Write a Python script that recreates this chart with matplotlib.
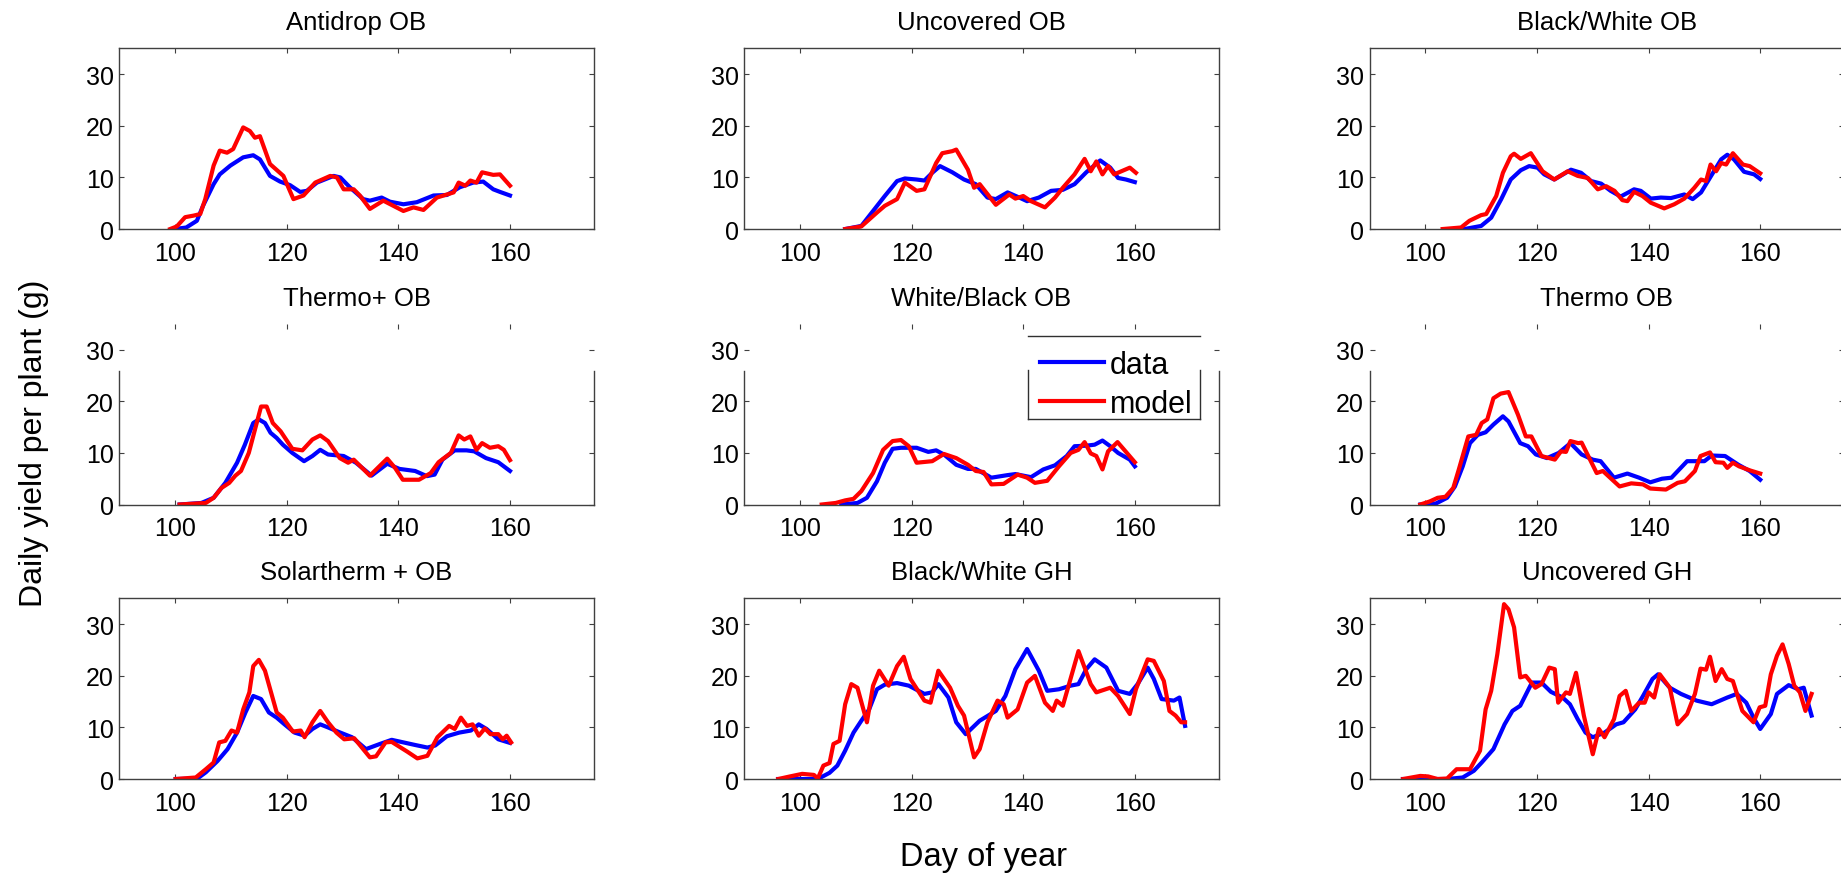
import matplotlib
matplotlib.use("Agg")
import matplotlib.pyplot as plt
from matplotlib.lines import Line2D

plt.rcParams['font.family'] = ['Liberation Sans', 'DejaVu Sans']

# ---- data (day of year, g per plant) ----
antidrop_data_day = [100, 102, 103.9, 105, 106.9, 108, 109.9, 112.2, 114, 115.2, 117, 118.8, 120.6, 122.4, 123.6, 125.4, 128.4, 129.6, 131.3, 133.7, 134.9, 137, 138.5, 140.9, 143.3, 146.3, 148.7, 151, 153.4, 155.2, 157, 158.2, 160]
antidrop_data_val = [0, 0.3, 1.6, 4.5, 8.7, 10.6, 12.3, 13.9, 14.3, 13.5, 10.3, 9.2, 8.5, 7.2, 7.4, 9.0, 10.3, 10.0, 8.1, 5.8, 5.5, 6.1, 5.3, 4.8, 5.2, 6.5, 6.6, 8.1, 9.0, 9.2, 7.7, 7.2, 6.5]
antidrop_model_day = [99.1, 100.3, 101.8, 103.3, 104.5, 105.4, 106.9, 108, 109.3, 110.4, 112.2, 113.4, 114.3, 115.2, 117, 119.4, 121.2, 123, 125.1, 127.8, 129, 130.2, 132, 133.1, 134.9, 137.3, 140.9, 142.7, 144.5, 146.9, 149.9, 150.8, 152, 152.9, 154, 155, 157, 158.2, 160]
antidrop_model_val = [0, 0.5, 2.3, 2.6, 2.9, 5.8, 12.3, 15.2, 14.8, 15.5, 19.7, 19.0, 17.7, 18.0, 12.6, 10.3, 5.8, 6.5, 9.0, 10.3, 10.0, 7.7, 7.7, 6.5, 3.9, 5.5, 3.5, 4.2, 3.7, 6.1, 7.1, 9.0, 8.4, 9.4, 9.0, 11.0, 10.5, 10.6, 8.4]

uncov_ob_data_day = [108.1, 111, 113.1, 115.2, 117.4, 118.8, 120.9, 122.3, 123.7, 125.1, 127.3, 129.4, 131.5, 133.6, 135.1, 137.2, 139.3, 140.7, 142.8, 145, 147.1, 149.2, 151.3, 153.8, 155.6, 157, 158.4, 160]
uncov_ob_data_val = [0, 0.6, 3.5, 6.4, 9.3, 9.8, 9.6, 9.4, 10.9, 12.2, 11.0, 9.6, 8.7, 6.1, 5.8, 7.1, 6.1, 5.4, 6.1, 7.4, 7.6, 8.7, 11.0, 13.3, 11.9, 9.9, 9.6, 9.1]
uncov_ob_model_day = [108.1, 111, 113.8, 115.2, 117.4, 118.8, 120.9, 122.3, 124.4, 125.5, 127.3, 128, 130.1, 131.2, 132.2, 135.1, 137.5, 138.6, 140, 141.4, 143.9, 145.7, 147.1, 149.2, 151, 152.1, 153.1, 154.2, 155.2, 156.3, 159.1, 160.2]
uncov_ob_model_val = [0, 0.5, 3.2, 4.5, 5.8, 9.0, 7.4, 7.7, 12.8, 14.7, 15.1, 15.4, 11.5, 8.0, 8.7, 4.7, 6.7, 5.9, 6.4, 5.4, 4.2, 6.1, 8.0, 10.6, 13.6, 11.2, 13.1, 10.6, 12.2, 10.6, 11.9, 10.9]

bw_ob_data_day = [107, 110, 111.8, 113.6, 115.3, 117.1, 118.6, 120.1, 121.3, 123.1, 126.1, 127.9, 129.7, 131.5, 133.2, 135, 137.4, 138.6, 140.4, 142.2, 144, 146.4, 147.9, 149.4, 151.2, 153, 154.1, 155.3, 157.1, 158.9, 160]
bw_ob_data_val = [0, 0.6, 2.2, 5.8, 9.6, 11.4, 12.2, 11.9, 10.6, 9.6, 11.5, 10.9, 9.3, 8.8, 7.4, 6.3, 7.7, 7.4, 5.9, 6.1, 6.0, 6.7, 5.8, 7.1, 10.3, 13.5, 14.4, 13.5, 11.1, 10.6, 9.7]
bw_ob_model_day = [103.1, 106.4, 107.9, 110, 110.9, 112.7, 113.9, 115.3, 115.9, 117.1, 118.9, 121, 123.1, 125.5, 127.3, 129.1, 130.9, 132.4, 133.9, 135.3, 136.2, 137.4, 138.9, 140.4, 142.8, 144.6, 146.4, 148.2, 149.4, 150.3, 151.1, 152.1, 153, 153.9, 155.1, 156.9, 158.1, 160]
bw_ob_model_val = [0, 0.3, 1.6, 2.7, 2.9, 6.4, 10.9, 14.1, 14.6, 13.6, 14.7, 11.2, 9.6, 11.2, 10.3, 9.9, 7.7, 8.3, 7.4, 5.6, 5.4, 7.2, 6.4, 5.1, 4.0, 4.8, 5.9, 8.0, 9.6, 9.3, 12.5, 11.2, 12.8, 12.5, 14.7, 12.5, 12.2, 10.8]

thermoplus_data_day = [100.8, 104.7, 106.9, 109, 111.1, 112.5, 114, 115, 116.1, 117.1, 118.2, 119.3, 121, 123.1, 124.6, 126, 127.4, 130.2, 132.4, 135.2, 138, 140.2, 143, 145.1, 146.5, 147.9, 150.1, 152.2, 153.6, 155.7, 157.9, 160]
thermoplus_data_val = [0, 0.3, 1.3, 4.2, 8.1, 11.6, 15.8, 16.5, 15.8, 13.9, 12.9, 11.6, 10.0, 8.4, 9.4, 10.6, 9.7, 9.4, 8.1, 5.6, 7.9, 6.9, 6.5, 5.5, 5.8, 8.7, 10.5, 10.5, 10.3, 9.0, 8.2, 6.5]
thermoplus_model_day = [100.8, 105.5, 106.9, 108.3, 109.7, 110.8, 111.8, 113.2, 114.3, 115.4, 116.4, 117.5, 118.9, 121, 122.8, 124.6, 126, 127.4, 129.5, 131, 132, 134.9, 138, 139.4, 140.8, 143.7, 145.8, 147.2, 149.4, 150.8, 151.8, 152.9, 154, 155, 156.4, 157.9, 158.9, 160]
thermoplus_model_val = [0, 0.3, 1.3, 3.2, 4.2, 5.6, 6.5, 10.0, 14.5, 19.0, 19.0, 15.8, 14.2, 10.8, 10.5, 12.6, 13.4, 12.3, 9.0, 8.1, 8.7, 5.6, 8.9, 7.1, 4.8, 4.8, 6.1, 8.2, 10.0, 13.4, 12.6, 13.2, 10.6, 11.9, 11.0, 11.3, 10.6, 8.6]

wb_ob_data_day = [107.4, 110.3, 112, 113.8, 115.2, 116.6, 118.1, 120.9, 123, 124.4, 125.8, 128, 130.1, 131.5, 134.3, 137.2, 138.6, 141.4, 143.6, 145.7, 147.8, 149.2, 151.3, 152.8, 154.2, 155.6, 157, 159.1, 160]
wb_ob_data_val = [0, 0.3, 1.3, 4.5, 8.1, 10.8, 11.0, 11.0, 10.2, 10.5, 9.7, 7.7, 6.9, 6.9, 5.2, 5.7, 5.9, 5.3, 6.8, 7.6, 9.4, 11.3, 11.4, 11.6, 12.4, 11.3, 10.0, 8.7, 7.4]
wb_ob_model_day = [103.9, 106.4, 108.1, 109.6, 111, 113.1, 114.9, 116.6, 118.1, 119.5, 120.9, 123.7, 125.8, 128, 130.1, 131.5, 132.9, 134.3, 136.5, 139, 140.7, 142.1, 144.3, 146.4, 148.5, 149.9, 151, 152.1, 153.1, 154.2, 155.2, 156.9, 158.1, 160]
wb_ob_model_val = [0, 0.3, 0.8, 1.1, 2.6, 6.1, 10.6, 12.3, 12.5, 11.3, 8.1, 8.4, 9.8, 9.0, 7.7, 6.5, 6.3, 3.9, 4.0, 5.8, 5.2, 4.2, 4.6, 7.4, 10.0, 10.6, 12.1, 9.9, 9.4, 6.8, 10.3, 12.1, 10.6, 8.2]

thermo_data_day = [99.1, 101.9, 103.9, 105.3, 106.7, 108, 109.4, 110.8, 112.2, 113.9, 114.9, 117, 118.4, 119.8, 121.8, 123.9, 126, 128, 130, 131.4, 133.8, 136.2, 138.3, 140.3, 142.4, 144.1, 146.9, 150, 151.3, 153.7, 156.1, 158.1, 160]
thermo_data_val = [0, 0.2, 1.3, 3.5, 7.4, 11.9, 13.5, 14.0, 15.5, 17.1, 16.1, 11.9, 11.3, 9.7, 9.0, 10.0, 11.9, 9.7, 8.7, 8.4, 5.2, 6.0, 5.2, 4.3, 5.0, 5.2, 8.4, 8.4, 9.5, 9.4, 7.7, 6.5, 4.8]
thermo_model_day = [99.1, 100.8, 102.2, 103.6, 105, 106, 107.7, 109.1, 110.1, 111.1, 112.2, 113.5, 114.9, 116.6, 118, 119, 120.8, 123.2, 124.3, 125.2, 126, 127.4, 128, 130.7, 131.8, 134.8, 136.9, 139, 140.3, 143.1, 145.2, 146.5, 148.3, 149.3, 151, 152, 153.4, 154.1, 155.1, 156.2, 158.2, 160]
thermo_model_val = [0, 0.6, 1.3, 1.5, 3.2, 6.8, 13.2, 13.5, 15.8, 16.5, 20.6, 21.5, 21.8, 17.4, 13.2, 13.2, 9.4, 8.7, 10.3, 10.2, 12.3, 11.9, 12.0, 6.1, 6.5, 3.5, 4.1, 3.9, 3.1, 2.9, 4.2, 4.5, 6.5, 9.4, 10.1, 8.2, 8.1, 7.1, 8.1, 7.4, 6.6, 6.0]

solar_data_day = [100.1, 104, 105.5, 107.6, 109.4, 111.1, 112.6, 114, 115.4, 116.8, 118.2, 119.6, 121.4, 123.2, 124.6, 126, 127.4, 129.6, 131.7, 134.2, 136.7, 138.8, 140.9, 143, 145.2, 146.6, 148.7, 150.9, 153, 154.4, 155.8, 157.9, 160]
solar_data_val = [0, 0.1, 1.3, 3.5, 5.8, 9.0, 12.9, 16.1, 15.5, 12.9, 11.9, 10.6, 9.0, 8.4, 9.7, 10.6, 10.0, 9.0, 8.1, 5.8, 6.8, 7.6, 7.1, 6.6, 6.1, 6.5, 8.3, 9.0, 9.4, 10.6, 9.7, 7.7, 7.0]
solar_model_day = [100.1, 103.7, 105.5, 106.9, 107.9, 109, 110.1, 111.1, 112.2, 113.3, 114, 115, 116.1, 118.2, 119.3, 121.1, 122.5, 123.2, 124.6, 126, 127.4, 128.9, 130.3, 132.1, 134.9, 136, 137.7, 138.8, 141.6, 143.4, 145.2, 147, 149.1, 150.1, 151.2, 152.3, 153.3, 154.4, 155.5, 156.5, 157.9, 158.7, 159.4, 160.2]
solar_model_val = [0, 0.3, 1.9, 3.2, 7.1, 7.4, 9.4, 9.0, 13.5, 16.8, 21.9, 23.1, 21.0, 12.9, 11.9, 9.2, 9.4, 8.1, 11.0, 13.2, 11.0, 9.0, 7.7, 7.9, 4.2, 4.4, 7.1, 7.2, 5.3, 4.0, 4.5, 8.1, 10.3, 9.7, 11.9, 10.3, 10.6, 8.4, 9.8, 8.7, 8.7, 7.7, 8.4, 7.1]

bw_gh_data_day = [96.1, 103.2, 105.3, 106.7, 108.1, 109.6, 111, 112.4, 113.8, 115.2, 117.4, 119.5, 122.3, 123.7, 124.8, 126.6, 128, 129.7, 132.2, 135.1, 136.8, 138.6, 140.7, 142.8, 144.3, 146.4, 148.5, 149.9, 151.3, 152.8, 154.9, 157, 159.1, 160.5, 162.3, 163.4, 164.8, 167, 168, 169]
bw_gh_data_val = [0, 0, 1.2, 2.6, 5.5, 9.0, 11.3, 13.5, 17.4, 18.3, 18.6, 18.1, 16.5, 16.8, 18.4, 15.8, 11.0, 8.7, 11.3, 13.2, 16.1, 21.3, 25.2, 21.0, 17.1, 17.4, 18.1, 18.4, 21.3, 23.2, 21.6, 17.1, 16.5, 18.4, 21.6, 19.4, 15.5, 15.2, 15.8, 10.3]
bw_gh_model_day = [96.1, 98.2, 100.4, 102.5, 103.2, 104.2, 105.3, 106, 107.1, 108.1, 109.2, 110.3, 112, 113.1, 114.2, 115.9, 117.4, 118.6, 119.8, 122.3, 123.4, 124.8, 126.9, 128.3, 129.4, 131.2, 132.2, 133.6, 135.4, 136.5, 137.2, 139, 140.7, 142.1, 143.9, 145.3, 146, 147.1, 149.9, 152.1, 153.1, 155.6, 157, 159.1, 160.2, 162.3, 163.4, 165.2, 166.2, 167.3, 168.3, 169]
bw_gh_model_val = [0, 0.5, 1.0, 0.8, 0.1, 2.6, 3.1, 6.8, 7.4, 14.5, 18.4, 17.7, 11.0, 18.1, 21.0, 18.1, 21.9, 23.7, 19.4, 15.2, 14.8, 21.0, 17.7, 14.2, 12.3, 4.2, 5.8, 11.0, 15.2, 14.5, 11.9, 13.5, 18.7, 20.0, 14.8, 13.2, 15.2, 14.2, 24.8, 18.4, 16.8, 17.7, 16.1, 12.6, 17.4, 23.2, 22.9, 19.0, 13.2, 12.3, 11.0, 11.0]

uncov_gh_data_day = [96, 103.9, 106.7, 108.7, 110.1, 112.2, 114.2, 115.6, 117, 119.1, 120.8, 122.5, 124.6, 125.9, 127.3, 128.7, 130, 132.1, 134.2, 135.5, 137.6, 139, 140.7, 141.7, 143.8, 145.8, 148.6, 151.3, 154.1, 155.8, 157.5, 158.8, 160, 161.9, 163, 165.1, 166.8, 167.8, 169.2]
uncov_gh_data_val = [0, 0, 0.3, 1.6, 3.2, 5.8, 10.6, 13.2, 14.2, 18.7, 18.7, 16.9, 15.8, 14.5, 11.6, 9.0, 8.1, 9.0, 10.6, 11.0, 13.5, 16.1, 19.4, 20.3, 17.7, 16.5, 15.2, 14.5, 15.8, 16.5, 14.8, 11.9, 9.7, 12.6, 16.5, 18.2, 17.4, 17.7, 12.3]
uncov_gh_model_day = [96, 99.1, 100.5, 102.2, 103.9, 105.6, 108, 109.8, 110.8, 111.8, 112.9, 114.1, 114.9, 115.9, 117, 118, 119.7, 120.8, 122.2, 123.2, 123.8, 125.2, 125.9, 127, 128.4, 130, 131.1, 132.1, 133.8, 134.8, 135.9, 136.9, 138.3, 139.3, 140, 141, 142, 143.8, 145.2, 146.9, 148.3, 149.3, 150.3, 151, 152, 153.1, 154.1, 155.1, 156.8, 158.8, 159.9, 160.9, 161.9, 163, 164, 165.1, 166.1, 167.1, 168.1, 169.2]
uncov_gh_model_val = [0, 0.6, 0.5, 0, 0.1, 1.9, 1.9, 5.5, 13.5, 17.1, 24.2, 33.9, 32.9, 29.4, 19.7, 20.0, 17.7, 18.4, 21.6, 21.3, 14.8, 16.8, 16.5, 20.6, 12.3, 4.8, 9.7, 8.1, 11.6, 16.1, 17.1, 13.2, 14.8, 14.8, 16.8, 15.8, 20.3, 17.7, 10.6, 12.6, 16.5, 21.4, 21.2, 23.7, 19.0, 21.3, 19.4, 19.0, 13.2, 11.0, 13.9, 14.2, 20.3, 23.9, 26.1, 22.3, 18.1, 16.8, 13.2, 16.5]

titles = ['Antidrop OB', 'Uncovered OB', 'Black/White OB',
          'Thermo+ OB', 'White/Black OB', 'Thermo OB',
          'Solartherm + OB', 'Black/White GH', 'Uncovered GH']

panels = [
    (antidrop_data_day, antidrop_data_val, antidrop_model_day, antidrop_model_val),
    (uncov_ob_data_day, uncov_ob_data_val, uncov_ob_model_day, uncov_ob_model_val),
    (bw_ob_data_day, bw_ob_data_val, bw_ob_model_day, bw_ob_model_val),
    (thermoplus_data_day, thermoplus_data_val, thermoplus_model_day, thermoplus_model_val),
    (wb_ob_data_day, wb_ob_data_val, wb_ob_model_day, wb_ob_model_val),
    (thermo_data_day, thermo_data_val, thermo_model_day, thermo_model_val),
    (solar_data_day, solar_data_val, solar_model_day, solar_model_val),
    (bw_gh_data_day, bw_gh_data_val, bw_gh_model_day, bw_gh_model_val),
    (uncov_gh_data_day, uncov_gh_data_val, uncov_gh_model_day, uncov_gh_model_val),
]

xticks = [100, 120, 140, 160]
yticks = [0, 10, 20, 30]

lefts = [0.0648, 0.4042, 0.7439]
bottoms = [0.7383, 0.4249, 0.1126]
w, h = 0.2577, 0.2054
spine_col = '#404040'

fig = plt.figure(figsize=(18.41, 8.79), dpi=100)

for k in range(9):
    r, c = divmod(k, 3)
    ax = fig.add_axes([lefts[c], bottoms[r], w, h])
    dday, dval, mday, mval = panels[k]
    ax.plot(dday, dval, color='#0000ff', lw=3.0, label='data')
    ax.plot(mday, mval, color='#ff0000', lw=3.0, label='model')
    ax.set_xlim(90, 175)
    ax.set_ylim(0, 35)
    ax.set_xticks(xticks)
    ax.set_yticks(yticks)
    ax.tick_params(direction='in', length=3.6, width=0.8, color=spine_col,
                   top=True, right=True, labelsize=18)
    ax.tick_params(axis='x', pad=8.5)
    ax.tick_params(axis='y', pad=4)
    for s in ax.spines.values():
        s.set_color(spine_col)
        s.set_linewidth(1.0)
    if r == 1:
        # middle row: vertical edges missing near the top in the original
        ax.spines['top'].set_visible(False)
        ax.spines['left'].set_bounds(0, 25.9)
        ax.spines['right'].set_bounds(0, 25.9)
    ax.set_title(titles[k], fontsize=18.5, pad=14)

    if k == 4:
        leg = ax.legend(loc='upper left', bbox_to_anchor=(0.597, 0.925),
                        frameon=False, fontsize=22, handlelength=2.1,
                        handletextpad=0.2, labelspacing=0.3,
                        borderaxespad=0)
        # legend border as in the original (sides broken near the top)
        x0, x1, y0, y1, yc = 0.599, 0.961, 0.472, 0.933, 0.743
        for xs, ys in [((x0, x1), (y1, y1)), ((x0, x1), (y0, y0)),
                       ((x0, x0), (y0, yc)), ((x1, x1), (y0, yc))]:
            ax.add_line(Line2D(xs, ys, transform=ax.transAxes, color='#303030',
                               lw=1.0, clip_on=False))

fig.text(0.0185, 0.4954, 'Daily yield per plant (g)', rotation=90,
         ha='center', va='center', fontsize=23)
fig.text(0.5342, 0.0239, 'Day of year', ha='center', va='center', fontsize=23.5)

fig.savefig('out.png', dpi=100)
